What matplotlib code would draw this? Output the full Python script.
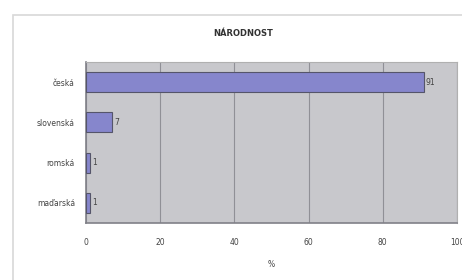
import matplotlib.pyplot as plt
from matplotlib.patches import Rectangle

kategorie = ['česká', 'slovenská', 'romská', 'maďarská']
hodnoty = [91, 7, 1, 1]
xticks = [0, 20, 40, 60, 80, 100]

fig = plt.figure(figsize=(4.62, 2.8), dpi=100)
fig.patch.set_facecolor('white')

# outer chart frame
fig.patches.append(Rectangle((13 / 462, -0.05), 1.0, 1 - 15 / 280 + 0.05,
                             transform=fig.transFigure, facecolor='white',
                             edgecolor='#d8d8d8', linewidth=1.2, zorder=-5))

ax = fig.add_axes([86 / 462, 1 - 223 / 280, 371 / 462, 161 / 280])
ax.set_zorder(2)
ax.set_facecolor('#c8c8cc')

pos = list(range(len(kategorie)))
ax.barh(pos, hodnoty, height=0.5, color='#8686cc', edgecolor='#55556a',
        linewidth=0.8, zorder=3)
for p, v in zip(pos, hodnoty):
    ax.text(v + 0.6, p, str(v), va='center', ha='left', fontsize=5.5,
            color='#444444')

ax.set_ylim(len(kategorie) - 0.5, -0.5)
ax.set_xlim(0, 100)
ax.set_yticks(pos)
ax.set_yticklabels(kategorie, fontsize=5.5, color='#444444')
ax.set_xticks(xticks)
ax.set_xticklabels([str(t) for t in xticks], fontsize=5.5, color='#444444')
ax.tick_params(axis='y', length=0, pad=8)
ax.tick_params(axis='x', length=0, pad=11)
ax.grid(axis='x', color='#909096', linewidth=0.8, zorder=1)
for s in ['top', 'right']:
    ax.spines[s].set_color('#b0b0b0')
for s in ['left', 'bottom']:
    ax.spines[s].set_color('#808088')
    ax.spines[s].set_linewidth(1.2)

ax.set_xlabel('%', fontsize=5.5, color='#444444', labelpad=9)
fig.text(243 / 462, 1 - 33 / 280, 'NÁRODNOST', ha='center', va='center',
         fontsize=6, color='#333333', fontweight='bold')

fig.savefig('out.png', dpi=100)
